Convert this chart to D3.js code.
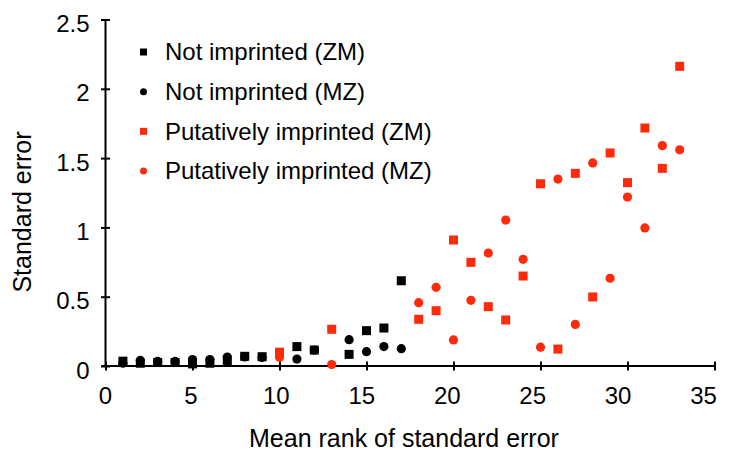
<!DOCTYPE html>
<html>
<head>
<meta charset="utf-8">
<script src="https://cdn.jsdelivr.net/npm/d3@7"></script>
<style>
  html, body { margin: 0; padding: 0; background: #fff; }
  svg { display: block; font-family: "Liberation Sans", Arial, Helvetica, sans-serif; }
</style>
</head>
<body>
<svg id="chart" width="729" height="460"></svg>
<script>
// ---- data ----
const notImpRanks = [1, 2, 3, 4, 5, 6, 7, 8, 9, 11, 12, 14, 15, 16, 17];
const notImpZM = [0.035, 0.02, 0.025, 0.025, 0.015, 0.02, 0.04, 0.07, 0.067, 0.14, 0.115, 0.084, 0.255, 0.274, 0.615];
const notImpMZ = [0.02, 0.04, 0.033, 0.033, 0.047, 0.047, 0.065, 0.065, 0.062, 0.05, 0.115, 0.19, 0.103, 0.14, 0.125];
const impRanks = [10, 13, 18, 19, 20, 21, 22, 23, 24, 25, 26, 27, 28, 29, 30, 31, 32, 33];
const impZM = [0.10, 0.265, 0.337, 0.399, 0.909, 0.748, 0.428, 0.332, 0.649, 1.315, 0.122, 1.39, 0.498, 1.537, 1.323, 1.717, 1.426, 2.162];
const impMZ = [0.063, 0.01, 0.457, 0.568, 0.188, 0.474, 0.815, 1.053, 0.77, 0.136, 1.349, 0.30, 1.465, 0.633, 1.219, 0.996, 1.59, 1.56];
const xTicks = [0, 5, 10, 15, 20, 25, 30, 35];
const yTicks = [0, 0.5, 1, 1.5, 2, 2.5];
const yTickLabels = ["0", "0.5", "1", "1.5", "2", "2.5"];
const legendLabels = ["Not imprinted (ZM)", "Not imprinted (MZ)", "Putatively imprinted (ZM)", "Putatively imprinted (MZ)"];
const xTitle = "Mean rank of standard error";
const yTitle = "Standard error";

const BLACK = "#000000";
const RED = "#ff2a0a";

const svg = d3.select("#chart");
const x = d3.scaleLinear().domain([0, 35]).range([105.5, 714.5]);
const y = d3.scaleLinear().domain([0, 2.5]).range([366, 19.5]);
// tick labels sit slightly left of their ticks in the original
const xLab = d3.scaleLinear().domain([0, 35]).range([105, 703]);

// axes
const xAxis = d3.axisBottom(x).tickValues(xTicks).tickSize(0).tickFormat(d3.format("d"));
const gx = svg.append("g").attr("transform", `translate(0,${y(0)})`).call(xAxis);
gx.select(".domain").attr("stroke", "#000").attr("stroke-width", 2).attr("d", `M${x(0) - 4},0H${x(35) + 1}`);
gx.selectAll(".tick text").attr("font-size", 24).attr("fill", "#000")
  .attr("y", 37.5).attr("dy", "0").attr("x", d => xLab(d) - x(d));
gx.selectAll(".tick").append("line").attr("y1", -4.5).attr("y2", 4.5).attr("stroke", "#000").attr("stroke-width", 2);

const yAxis = d3.axisLeft(y).tickValues(yTicks).tickSize(0).tickFormat((d, i) => yTickLabels[i]);
const gy = svg.append("g").attr("transform", `translate(${x(0)},0)`).call(yAxis);
gy.select(".domain").attr("stroke", "#000").attr("stroke-width", 2).attr("d", `M0,${y(2.5)}V${y(0) + 1}`);
gy.selectAll(".tick text").attr("font-size", 24).attr("fill", "#000").attr("x", -16).attr("y", 12).attr("dy", "0");
gy.selectAll(".tick").append("line").attr("x1", -4.5).attr("x2", 4.5).attr("stroke", "#000").attr("stroke-width", 2);

// titles
svg.append("text").attr("x", 404).attr("y", 447).attr("text-anchor", "middle")
  .attr("font-size", 25).attr("fill", "#000").text(xTitle);
svg.append("text").attr("transform", `translate(31,${212}) rotate(-90)`).attr("text-anchor", "middle")
  .attr("font-size", 25).attr("fill", "#000").text(yTitle);

// marks
const SQ = 9, R = 4.6;
function circles(ranks, vals, color) {
  svg.append("g").selectAll("circle").data(ranks.map((r, i) => [r, vals[i]])).join("circle")
    .attr("cx", d => x(d[0])).attr("cy", d => y(d[1])).attr("r", R).attr("fill", color);
}
function squares(ranks, vals, color) {
  svg.append("g").selectAll("rect").data(ranks.map((r, i) => [r, vals[i]])).join("rect")
    .attr("x", d => x(d[0]) - SQ / 2).attr("y", d => y(d[1]) - SQ / 2)
    .attr("width", SQ).attr("height", SQ).attr("fill", color);
}
circles(notImpRanks, notImpMZ, BLACK);
squares(notImpRanks, notImpZM, BLACK);
circles(impRanks, impMZ, RED);
squares(impRanks, impZM, RED);

// legend
const legendY = d3.scalePoint().domain(legendLabels).range([52, 171]);
const legendColors = [BLACK, BLACK, RED, RED];
const legendShapes = ["square", "circle", "square", "circle"];
const lg = svg.append("g");
legendLabels.forEach((lab, i) => {
  const cy = legendY(lab);
  if (legendShapes[i] === "square") {
    lg.append("rect").attr("x", 143.5 - 3.5).attr("y", cy - 3.5).attr("width", 7).attr("height", 7).attr("fill", legendColors[i]);
  } else {
    lg.append("circle").attr("cx", 143.5).attr("cy", cy).attr("r", 3.5).attr("fill", legendColors[i]);
  }
  lg.append("text").attr("x", 165).attr("y", cy).attr("dy", "0.35em").attr("font-size", 24).attr("fill", "#000").text(lab);
});
</script>
</body>
</html>
